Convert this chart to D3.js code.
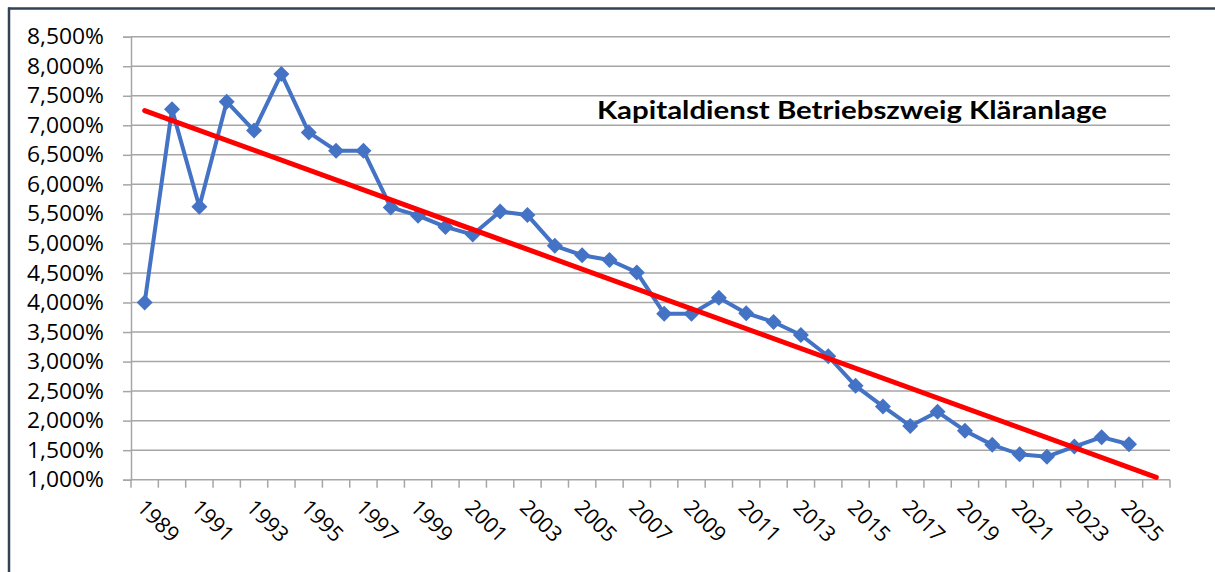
<!DOCTYPE html>
<html><head><meta charset="utf-8">
<script src="https://cdn.jsdelivr.net/npm/d3@7/dist/d3.min.js"></script>
<style>html,body{margin:0;padding:0;background:#fff;}svg{display:block;}</style>
</head><body>
<svg id="chart" width="1215" height="572"></svg>
<script>
const categories = d3.range(1989, 2027); // 1989..2026
const years = d3.range(1989, 2026);
const values = [4.00, 7.27, 5.62, 7.40, 6.91, 7.87, 6.88, 6.57, 6.57, 5.61,
  5.47, 5.28, 5.15, 5.54, 5.48, 4.96, 4.80, 4.72, 4.51, 3.81,
  3.81, 4.08, 3.82, 3.67, 3.45, 3.09, 2.59, 2.24, 1.91, 2.15,
  1.83, 1.59, 1.43, 1.39, 1.56, 1.72, 1.60];
const trendYears = [1989, 2026];
const trendValues = [7.25, 1.04];
const yTicks = [1.0,1.5,2.0,2.5,3.0,3.5,4.0,4.5,5.0,5.5,6.0,6.5,7.0,7.5,8.0,8.5];
const xLabelYears = categories.filter((d,i) => i % 2 === 0 && d <= 2025);
const title = "Kapitaldienst Betriebszweig Kläranlage";

const svg = d3.select("#chart");
const L = 131, R = 1170, T = 36.7, B = 479.7;
const x = d3.scaleBand().domain(categories).range([L, R]).padding(0);
const cx = d => x(d) + x.bandwidth()/2;
const y = d3.scaleLinear().domain([1.0, 8.5]).range([B, T]);
const fmt = v => d3.format(".3f")(v).replace(".", ",") + "%";
const FONT = "Open Sans";

// frame borders
svg.append("line").attr("x1",8).attr("x2",1215).attr("y1",8.5).attr("y2",8.5)
  .attr("stroke","#344256").attr("stroke-width",2.5);
svg.append("line").attr("x1",9).attr("x2",9).attr("y1",7.5).attr("y2",572)
  .attr("stroke","#344256").attr("stroke-width",2.5);

// gridlines
svg.append("g").selectAll("line").data(yTicks.filter(d=>d>1.0)).join("line")
  .attr("x1", L).attr("x2", R).attr("y1", d=>y(d)).attr("y2", d=>y(d))
  .attr("stroke","#a6a6a6").attr("stroke-width",1.5);

// y axis
const yAxis = d3.axisLeft(y).tickValues(yTicks).tickFormat(fmt).tickSize(8).tickPadding(19);
const gy = svg.append("g").attr("transform",`translate(${L},0)`).call(yAxis);
gy.select(".domain").attr("stroke","#a6a6a6").attr("stroke-width",1.5);
gy.selectAll(".tick line").attr("stroke","#a6a6a6").attr("stroke-width",1.5);
gy.selectAll(".tick text").attr("font-family",FONT).attr("font-size",22).attr("fill","#000")
  .attr("textLength",77).attr("lengthAdjust","spacingAndGlyphs");

// x axis (labels at category centres, ticks at boundaries)
const xAxis = d3.axisBottom(x).tickValues(xLabelYears).tickSize(0).tickFormat(d=>String(d));
const gx = svg.append("g").attr("transform",`translate(0,${B})`).call(xAxis);
gx.select(".domain").remove();
gx.selectAll(".tick text").attr("font-family",FONT).attr("font-size",21.5).attr("fill","#000")
  .attr("text-anchor","start").attr("dy",null).attr("y",null)
  .attr("transform","translate(-9,29) rotate(45)");
const bounds = categories.map(d=>x(d)).concat([R]);
svg.append("g").selectAll("line").data(bounds).join("line")
  .attr("x1",d=>d).attr("x2",d=>d).attr("y1",B).attr("y2",B+8)
  .attr("stroke","#a6a6a6").attr("stroke-width",1.5);
svg.append("line").attr("x1",L).attr("x2",R).attr("y1",B).attr("y2",B)
  .attr("stroke","#a6a6a6").attr("stroke-width",1.5);

// data line
const pts = years.map((d,i)=>({year:d, v:values[i]}));
svg.append("path").datum(pts)
  .attr("d", d3.line().x(d=>cx(d.year)).y(d=>y(d.v)))
  .attr("fill","none").attr("stroke","#4472C4").attr("stroke-width",4).attr("stroke-linejoin","round");
svg.append("g").selectAll("path").data(pts).join("path")
  .attr("d", d3.symbol(d3.symbolSquare, 128))
  .attr("transform", d=>`translate(${cx(d.year)},${y(d.v)}) rotate(45)`)
  .attr("fill","#4472C4");

// trend line
const tr = trendYears.map((d,i)=>({year:d, v:trendValues[i]}));
svg.append("path").datum(tr)
  .attr("d", d3.line().x(d=>cx(d.year)).y(d=>y(d.v)))
  .attr("fill","none").attr("stroke","#FF0000").attr("stroke-width",5).attr("stroke-linecap","round");

// title
svg.append("text").attr("x",597).attr("y",119).text(title)
  .attr("font-family","Lato").attr("font-weight","bold").attr("font-size",25.5)
  .attr("textLength",510).attr("lengthAdjust","spacingAndGlyphs").attr("fill","#000");
</script>
</body></html>
